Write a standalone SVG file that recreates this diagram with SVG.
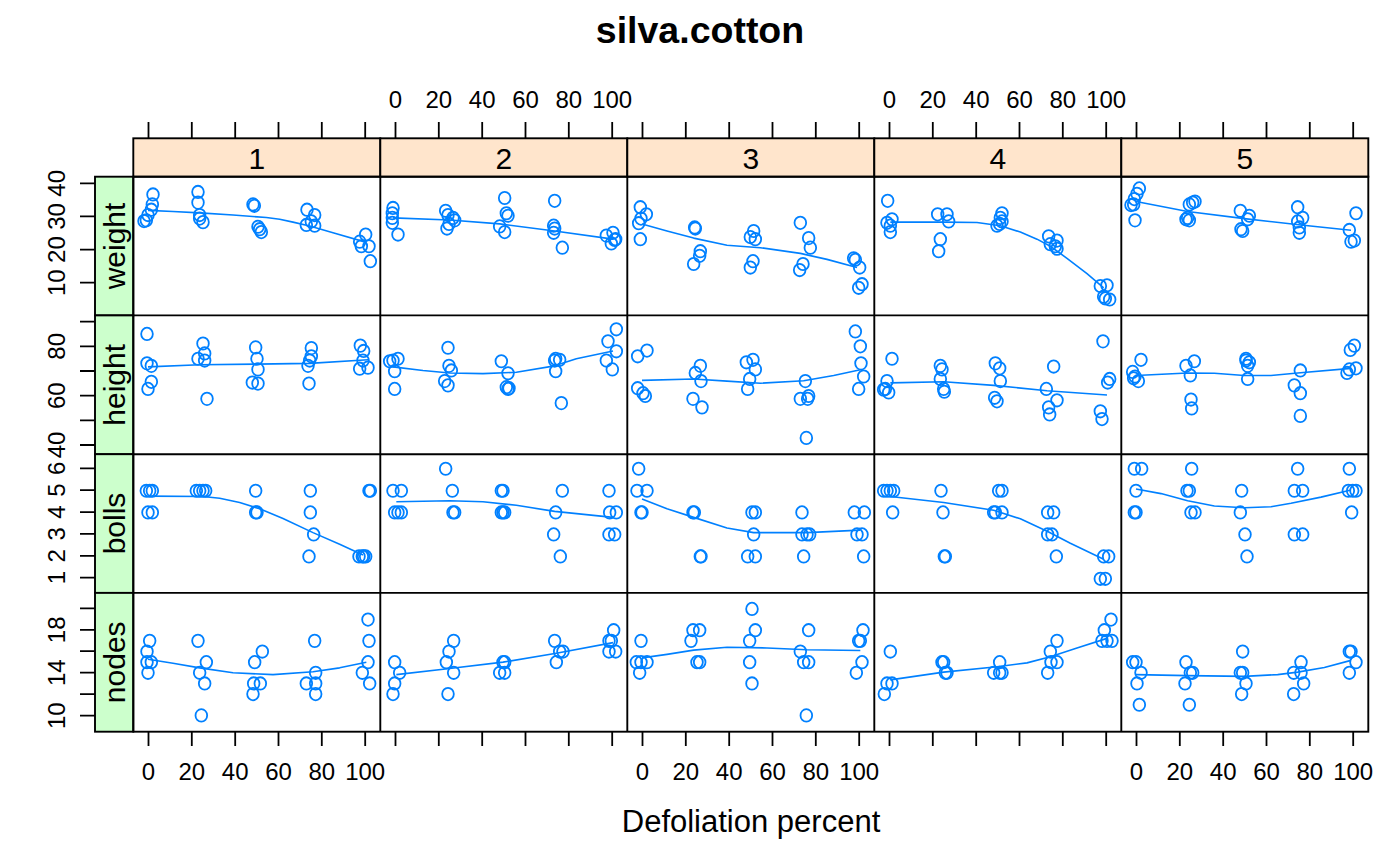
<svg xmlns="http://www.w3.org/2000/svg" width="1400" height="866" viewBox="0 0 1400 866">
<style>
text{font-family:"Liberation Sans",Arial,sans-serif;fill:#000}
.title{font-size:37.5px;font-weight:bold;text-anchor:middle}
.xlab{font-size:31px;text-anchor:middle}
.strip{font-size:30px;text-anchor:middle}
.ax{font-size:24px;text-anchor:middle}
.tick{stroke:#000;stroke-width:1.8;fill:none}
.frame{fill:none;stroke:#000;stroke-width:1.9}
.stripT{fill:#ffe5cc;stroke:#000;stroke-width:1.9}
.stripL{fill:#ccffcc;stroke:#000;stroke-width:1.9}
.pt{fill:none;stroke:#0080ff;stroke-width:1.8;vector-effect:non-scaling-stroke}
.fit{fill:none;stroke:#0080ff;stroke-width:1.6;stroke-linejoin:round;vector-effect:non-scaling-stroke}
</style>
<rect width="1400" height="866" fill="#fff"/>
<text class="title" x="700" y="43">silva.cotton</text>
<text class="xlab" x="751" y="832">Defoliation percent</text>

<g id="top-strips">
<rect class="stripT" x="133.3" y="138.3" width="247" height="38.4"/>
<rect class="stripT" x="380.3" y="138.3" width="247" height="38.4"/>
<rect class="stripT" x="627.3" y="138.3" width="247" height="38.4"/>
<rect class="stripT" x="874.3" y="138.3" width="247" height="38.4"/>
<rect class="stripT" x="1121.3" y="138.3" width="247" height="38.4"/>
<text class="strip" x="256.8" y="168.5">1</text>
<text class="strip" x="503.8" y="168.5">2</text>
<text class="strip" x="750.8" y="168.5">3</text>
<text class="strip" x="997.8" y="168.5">4</text>
<text class="strip" x="1244.8" y="168.5">5</text>
</g>

<g id="left-strips">
<rect class="stripL" x="95" y="176.7" width="38.3" height="138.7"/>
<rect class="stripL" x="95" y="315.4" width="38.3" height="138.8"/>
<rect class="stripL" x="95" y="454.2" width="38.3" height="138.7"/>
<rect class="stripL" x="95" y="592.9" width="38.3" height="138.8"/>
<text class="strip" transform="translate(125 246) rotate(-90)">weight</text>
<text class="strip" transform="translate(125 384.8) rotate(-90)">height</text>
<text class="strip" transform="translate(125 523.5) rotate(-90)">bolls</text>
<text class="strip" transform="translate(125 662.3) rotate(-90)">nodes</text>
</g>

<g id="y-axis">
<path class="tick" d="M80,282.7H95M80,249.6H95M80,216.4H95M80,183.3H95
M80,445H95M80,420.3H95M80,395.7H95M80,371H95M80,346.3H95M80,321.7H95
M80,577.7H95M80,555.8H95M80,533.9H95M80,512.1H95M80,490.2H95M80,468.3H95
M80,715.7H95M80,694.2H95M80,672.7H95M80,651.2H95M80,629.8H95M80,608.3H95"/>
<text class="ax" transform="translate(65 282.7) rotate(-90)">10</text>
<text class="ax" transform="translate(65 249.6) rotate(-90)">20</text>
<text class="ax" transform="translate(65 216.4) rotate(-90)">30</text>
<text class="ax" transform="translate(65 183.3) rotate(-90)">40</text>
<text class="ax" transform="translate(65 445) rotate(-90)">40</text>
<text class="ax" transform="translate(65 395.7) rotate(-90)">60</text>
<text class="ax" transform="translate(65 346.3) rotate(-90)">80</text>
<text class="ax" transform="translate(65 577.7) rotate(-90)">1</text>
<text class="ax" transform="translate(65 555.8) rotate(-90)">2</text>
<text class="ax" transform="translate(65 533.9) rotate(-90)">3</text>
<text class="ax" transform="translate(65 512.1) rotate(-90)">4</text>
<text class="ax" transform="translate(65 490.2) rotate(-90)">5</text>
<text class="ax" transform="translate(65 468.3) rotate(-90)">6</text>
<text class="ax" transform="translate(65 715.7) rotate(-90)">10</text>
<text class="ax" transform="translate(65 672.7) rotate(-90)">14</text>
<text class="ax" transform="translate(65 629.8) rotate(-90)">18</text>
</g>

<g id="x-axis">
<path class="tick" d="M148.5,122V138.3M191.8,122V138.3M235.2,122V138.3M278.5,122V138.3M321.8,122V138.3M365.2,122V138.3
M395.5,122V138.3M438.8,122V138.3M482.2,122V138.3M525.5,122V138.3M568.8,122V138.3M612.2,122V138.3
M642.5,122V138.3M685.8,122V138.3M729.2,122V138.3M772.5,122V138.3M815.8,122V138.3M859.2,122V138.3
M889.5,122V138.3M932.8,122V138.3M976.2,122V138.3M1019.5,122V138.3M1062.8,122V138.3M1106.2,122V138.3
M1136.5,122V138.3M1179.8,122V138.3M1223.2,122V138.3M1266.5,122V138.3M1309.8,122V138.3M1353.2,122V138.3"/>
<path class="tick" d="M148.5,731.7V746M191.8,731.7V746M235.2,731.7V746M278.5,731.7V746M321.8,731.7V746M365.2,731.7V746
M395.5,731.7V746M438.8,731.7V746M482.2,731.7V746M525.5,731.7V746M568.8,731.7V746M612.2,731.7V746
M642.5,731.7V746M685.8,731.7V746M729.2,731.7V746M772.5,731.7V746M815.8,731.7V746M859.2,731.7V746
M889.5,731.7V746M932.8,731.7V746M976.2,731.7V746M1019.5,731.7V746M1062.8,731.7V746M1106.2,731.7V746
M1136.5,731.7V746M1179.8,731.7V746M1223.2,731.7V746M1266.5,731.7V746M1309.8,731.7V746M1353.2,731.7V746"/>
<text class="ax" x="395.5" y="108">0</text><text class="ax" x="438.8" y="108">20</text><text class="ax" x="482.2" y="108">40</text><text class="ax" x="525.5" y="108">60</text><text class="ax" x="568.8" y="108">80</text><text class="ax" x="612.2" y="108">100</text>
<text class="ax" x="889.5" y="108">0</text><text class="ax" x="932.8" y="108">20</text><text class="ax" x="976.2" y="108">40</text><text class="ax" x="1019.5" y="108">60</text><text class="ax" x="1062.8" y="108">80</text><text class="ax" x="1106.2" y="108">100</text>
<text class="ax" x="148.5" y="780">0</text><text class="ax" x="191.8" y="780">20</text><text class="ax" x="235.2" y="780">40</text><text class="ax" x="278.5" y="780">60</text><text class="ax" x="321.8" y="780">80</text><text class="ax" x="365.2" y="780">100</text>
<text class="ax" x="642.5" y="780">0</text><text class="ax" x="685.8" y="780">20</text><text class="ax" x="729.2" y="780">40</text><text class="ax" x="772.5" y="780">60</text><text class="ax" x="815.8" y="780">80</text><text class="ax" x="859.2" y="780">100</text>
<text class="ax" x="1136.5" y="780">0</text><text class="ax" x="1179.8" y="780">20</text><text class="ax" x="1223.2" y="780">40</text><text class="ax" x="1266.5" y="780">60</text><text class="ax" x="1309.8" y="780">80</text><text class="ax" x="1353.2" y="780">100</text>
</g>

<g id="data-cols12" transform="translate(133 176) scale(0.333333 0.354862)">
<g id="panel-weight-1">
<circle class="pt" cx="60" cy="52" r="17.5"/><circle class="pt" cx="58" cy="80" r="17.5"/><circle class="pt" cx="55" cy="95" r="17.5"/><circle class="pt" cx="45" cy="110" r="17.5"/><circle class="pt" cx="40" cy="125" r="17.5"/><circle class="pt" cx="33" cy="127" r="17.5"/>
<circle class="pt" cx="195" cy="45" r="17.5"/><circle class="pt" cx="195" cy="75" r="17.5"/><circle class="pt" cx="200" cy="110" r="17.5"/><circle class="pt" cx="200" cy="120" r="17.5"/><circle class="pt" cx="210" cy="130" r="17.5"/>
<circle class="pt" cx="360" cy="80" r="17.5"/><circle class="pt" cx="364" cy="84" r="17.5"/><circle class="pt" cx="375" cy="143" r="17.5"/><circle class="pt" cx="380" cy="150" r="17.5"/><circle class="pt" cx="385" cy="158" r="17.5"/>
<circle class="pt" cx="522" cy="95" r="17.5"/><circle class="pt" cx="545" cy="110" r="17.5"/><circle class="pt" cx="535" cy="128" r="17.5"/><circle class="pt" cx="520" cy="138" r="17.5"/><circle class="pt" cx="545" cy="140" r="17.5"/>
<circle class="pt" cx="698" cy="165" r="17.5"/><circle class="pt" cx="680" cy="185" r="17.5"/><circle class="pt" cx="685" cy="198" r="17.5"/><circle class="pt" cx="708" cy="198" r="17.5"/><circle class="pt" cx="712" cy="240" r="17.5"/>
<path class="fit" d="M45,97 L120,100 L200,104 L300,110 L400,117 L440,122 L480,130 L530,141 L600,160 L700,187"/>
</g>
<g id="panel-weight-2">
<circle class="pt" cx="780" cy="90" r="17.5"/><circle class="pt" cx="778" cy="105" r="17.5"/><circle class="pt" cx="778" cy="118" r="17.5"/><circle class="pt" cx="778" cy="132" r="17.5"/><circle class="pt" cx="795" cy="165" r="17.5"/>
<circle class="pt" cx="938" cy="98" r="17.5"/><circle class="pt" cx="945" cy="110" r="17.5"/><circle class="pt" cx="960" cy="118" r="17.5"/><circle class="pt" cx="965" cy="125" r="17.5"/><circle class="pt" cx="948" cy="135" r="17.5"/><circle class="pt" cx="942" cy="148" r="17.5"/>
<circle class="pt" cx="1115" cy="62" r="17.5"/><circle class="pt" cx="1120" cy="105" r="17.5"/><circle class="pt" cx="1125" cy="112" r="17.5"/><circle class="pt" cx="1100" cy="142" r="17.5"/><circle class="pt" cx="1115" cy="158" r="17.5"/>
<circle class="pt" cx="1265" cy="70" r="17.5"/><circle class="pt" cx="1262" cy="140" r="17.5"/><circle class="pt" cx="1265" cy="148" r="17.5"/><circle class="pt" cx="1262" cy="160" r="17.5"/><circle class="pt" cx="1288" cy="202" r="17.5"/>
<circle class="pt" cx="1420" cy="168" r="17.5"/><circle class="pt" cx="1440" cy="160" r="17.5"/><circle class="pt" cx="1445" cy="180" r="17.5"/><circle class="pt" cx="1435" cy="190" r="17.5"/><circle class="pt" cx="1448" cy="178" r="17.5"/>
<path class="fit" d="M780,118 L950,124 L1100,135 L1265,155 L1440,178"/>
</g>
<g id="panel-height-1">
<circle class="pt" cx="42" cy="445" r="17.5"/><circle class="pt" cx="42" cy="528" r="17.5"/><circle class="pt" cx="55" cy="535" r="17.5"/><circle class="pt" cx="55" cy="580" r="17.5"/><circle class="pt" cx="45" cy="600" r="17.5"/>
<circle class="pt" cx="210" cy="472" r="17.5"/><circle class="pt" cx="215" cy="500" r="17.5"/><circle class="pt" cx="195" cy="515" r="17.5"/><circle class="pt" cx="215" cy="520" r="17.5"/><circle class="pt" cx="222" cy="628" r="17.5"/>
<circle class="pt" cx="368" cy="483" r="17.5"/><circle class="pt" cx="372" cy="515" r="17.5"/><circle class="pt" cx="375" cy="545" r="17.5"/><circle class="pt" cx="358" cy="582" r="17.5"/><circle class="pt" cx="375" cy="585" r="17.5"/>
<circle class="pt" cx="535" cy="485" r="17.5"/><circle class="pt" cx="535" cy="508" r="17.5"/><circle class="pt" cx="530" cy="520" r="17.5"/><circle class="pt" cx="525" cy="535" r="17.5"/><circle class="pt" cx="528" cy="585" r="17.5"/>
<circle class="pt" cx="682" cy="478" r="17.5"/><circle class="pt" cx="692" cy="493" r="17.5"/><circle class="pt" cx="690" cy="520" r="17.5"/><circle class="pt" cx="680" cy="543" r="17.5"/><circle class="pt" cx="705" cy="540" r="17.5"/>
<path class="fit" d="M45,538 L200,532 L370,530 L530,528 L705,518"/>
</g>
<g id="panel-height-2">
<circle class="pt" cx="780" cy="520" r="17.5"/><circle class="pt" cx="795" cy="515" r="17.5"/><circle class="pt" cx="770" cy="522" r="17.5"/><circle class="pt" cx="785" cy="550" r="17.5"/><circle class="pt" cx="785" cy="600" r="17.5"/>
<circle class="pt" cx="945" cy="484" r="17.5"/><circle class="pt" cx="948" cy="535" r="17.5"/><circle class="pt" cx="955" cy="548" r="17.5"/><circle class="pt" cx="935" cy="578" r="17.5"/><circle class="pt" cx="945" cy="590" r="17.5"/>
<circle class="pt" cx="1105" cy="522" r="17.5"/><circle class="pt" cx="1125" cy="556" r="17.5"/><circle class="pt" cx="1120" cy="595" r="17.5"/><circle class="pt" cx="1125" cy="600" r="17.5"/><circle class="pt" cx="1128" cy="598" r="17.5"/>
<circle class="pt" cx="1268" cy="515" r="17.5"/><circle class="pt" cx="1280" cy="518" r="17.5"/><circle class="pt" cx="1265" cy="520" r="17.5"/><circle class="pt" cx="1268" cy="550" r="17.5"/><circle class="pt" cx="1285" cy="640" r="17.5"/>
<circle class="pt" cx="1450" cy="432" r="17.5"/><circle class="pt" cx="1425" cy="466" r="17.5"/><circle class="pt" cx="1450" cy="494" r="17.5"/><circle class="pt" cx="1420" cy="520" r="17.5"/><circle class="pt" cx="1438" cy="545" r="17.5"/>
<path class="fit" d="M780,538 L870,548 L950,555 L1050,557 L1150,553 L1265,535 L1330,515 L1440,493"/>
</g>
<g id="panel-bolls-1">
<circle class="pt" cx="40" cy="887" r="17.5"/><circle class="pt" cx="50" cy="887" r="17.5"/><circle class="pt" cx="58" cy="887" r="17.5"/><circle class="pt" cx="45" cy="948" r="17.5"/><circle class="pt" cx="58" cy="948" r="17.5"/>
<circle class="pt" cx="190" cy="887" r="17.5"/><circle class="pt" cx="200" cy="887" r="17.5"/><circle class="pt" cx="210" cy="887" r="17.5"/><circle class="pt" cx="218" cy="887" r="17.5"/>
<circle class="pt" cx="368" cy="887" r="17.5"/><circle class="pt" cx="368" cy="948" r="17.5"/><circle class="pt" cx="372" cy="948" r="17.5"/>
<circle class="pt" cx="532" cy="887" r="17.5"/><circle class="pt" cx="532" cy="948" r="17.5"/><circle class="pt" cx="542" cy="1010" r="17.5"/><circle class="pt" cx="528" cy="1072" r="17.5"/>
<circle class="pt" cx="708" cy="887" r="17.5"/><circle class="pt" cx="712" cy="887" r="17.5"/><circle class="pt" cx="678" cy="1072" r="17.5"/><circle class="pt" cx="688" cy="1072" r="17.5"/><circle class="pt" cx="698" cy="1072" r="17.5"/><circle class="pt" cx="692" cy="1072" r="17.5"/>
<path class="fit" d="M45,902 L210,903 L260,908 L320,920 L380,938 L450,965 L540,1005 L620,1038 L690,1068"/>
</g>
<g id="panel-bolls-2">
<circle class="pt" cx="780" cy="887" r="17.5"/><circle class="pt" cx="805" cy="887" r="17.5"/><circle class="pt" cx="785" cy="948" r="17.5"/><circle class="pt" cx="795" cy="948" r="17.5"/><circle class="pt" cx="805" cy="948" r="17.5"/>
<circle class="pt" cx="938" cy="825" r="17.5"/><circle class="pt" cx="958" cy="887" r="17.5"/><circle class="pt" cx="960" cy="948" r="17.5"/><circle class="pt" cx="965" cy="948" r="17.5"/>
<circle class="pt" cx="1105" cy="887" r="17.5"/><circle class="pt" cx="1110" cy="887" r="17.5"/><circle class="pt" cx="1105" cy="948" r="17.5"/><circle class="pt" cx="1110" cy="948" r="17.5"/><circle class="pt" cx="1115" cy="948" r="17.5"/>
<circle class="pt" cx="1288" cy="887" r="17.5"/><circle class="pt" cx="1268" cy="948" r="17.5"/><circle class="pt" cx="1262" cy="1010" r="17.5"/><circle class="pt" cx="1282" cy="1072" r="17.5"/>
<circle class="pt" cx="1428" cy="887" r="17.5"/><circle class="pt" cx="1430" cy="948" r="17.5"/><circle class="pt" cx="1450" cy="948" r="17.5"/><circle class="pt" cx="1428" cy="1010" r="17.5"/><circle class="pt" cx="1445" cy="1010" r="17.5"/>
<path class="fit" d="M790,918 L950,915 L1050,918 L1150,928 L1265,945 L1440,962"/>
</g>
<g id="panel-nodes-1">
<circle class="pt" cx="50" cy="1310" r="17.5"/><circle class="pt" cx="42" cy="1340" r="17.5"/><circle class="pt" cx="42" cy="1370" r="17.5"/><circle class="pt" cx="55" cy="1370" r="17.5"/><circle class="pt" cx="45" cy="1400" r="17.5"/>
<circle class="pt" cx="195" cy="1310" r="17.5"/><circle class="pt" cx="220" cy="1370" r="17.5"/><circle class="pt" cx="200" cy="1400" r="17.5"/><circle class="pt" cx="215" cy="1430" r="17.5"/><circle class="pt" cx="205" cy="1520" r="17.5"/>
<circle class="pt" cx="388" cy="1340" r="17.5"/><circle class="pt" cx="365" cy="1370" r="17.5"/><circle class="pt" cx="362" cy="1430" r="17.5"/><circle class="pt" cx="382" cy="1430" r="17.5"/><circle class="pt" cx="360" cy="1460" r="17.5"/>
<circle class="pt" cx="545" cy="1310" r="17.5"/><circle class="pt" cx="548" cy="1400" r="17.5"/><circle class="pt" cx="520" cy="1430" r="17.5"/><circle class="pt" cx="548" cy="1430" r="17.5"/><circle class="pt" cx="548" cy="1460" r="17.5"/>
<circle class="pt" cx="705" cy="1250" r="17.5"/><circle class="pt" cx="708" cy="1310" r="17.5"/><circle class="pt" cx="705" cy="1370" r="17.5"/><circle class="pt" cx="688" cy="1400" r="17.5"/><circle class="pt" cx="710" cy="1430" r="17.5"/>
<path class="fit" d="M45,1362 L120,1373 L200,1386 L300,1400 L420,1405 L540,1397 L620,1386 L700,1370"/>
</g>
<g id="panel-nodes-2">
<circle class="pt" cx="785" cy="1370" r="17.5"/><circle class="pt" cx="800" cy="1400" r="17.5"/><circle class="pt" cx="785" cy="1430" r="17.5"/><circle class="pt" cx="780" cy="1460" r="17.5"/>
<circle class="pt" cx="962" cy="1310" r="17.5"/><circle class="pt" cx="948" cy="1340" r="17.5"/><circle class="pt" cx="940" cy="1370" r="17.5"/><circle class="pt" cx="962" cy="1400" r="17.5"/><circle class="pt" cx="945" cy="1460" r="17.5"/>
<circle class="pt" cx="1110" cy="1370" r="17.5"/><circle class="pt" cx="1115" cy="1370" r="17.5"/><circle class="pt" cx="1100" cy="1400" r="17.5"/><circle class="pt" cx="1115" cy="1400" r="17.5"/>
<circle class="pt" cx="1265" cy="1310" r="17.5"/><circle class="pt" cx="1290" cy="1340" r="17.5"/><circle class="pt" cx="1280" cy="1340" r="17.5"/><circle class="pt" cx="1270" cy="1370" r="17.5"/>
<circle class="pt" cx="1442" cy="1280" r="17.5"/><circle class="pt" cx="1428" cy="1310" r="17.5"/><circle class="pt" cx="1435" cy="1310" r="17.5"/><circle class="pt" cx="1428" cy="1340" r="17.5"/><circle class="pt" cx="1448" cy="1340" r="17.5"/>
<path class="fit" d="M790,1405 L950,1388 L1110,1370 L1270,1345 L1440,1315"/>
</g>
</g>

<g id="data-cols34" transform="translate(627 176) scale(0.333333 0.354862)">
<g id="panel-weight-3">
<circle class="pt" cx="40" cy="88" r="17.5"/><circle class="pt" cx="58" cy="108" r="17.5"/><circle class="pt" cx="42" cy="120" r="17.5"/><circle class="pt" cx="35" cy="133" r="17.5"/><circle class="pt" cx="40" cy="178" r="17.5"/>
<circle class="pt" cx="203" cy="145" r="17.5"/><circle class="pt" cx="205" cy="148" r="17.5"/><circle class="pt" cx="220" cy="212" r="17.5"/><circle class="pt" cx="218" cy="225" r="17.5"/><circle class="pt" cx="200" cy="248" r="17.5"/>
<circle class="pt" cx="380" cy="155" r="17.5"/><circle class="pt" cx="370" cy="172" r="17.5"/><circle class="pt" cx="385" cy="178" r="17.5"/><circle class="pt" cx="378" cy="240" r="17.5"/><circle class="pt" cx="370" cy="258" r="17.5"/>
<circle class="pt" cx="520" cy="132" r="17.5"/><circle class="pt" cx="545" cy="175" r="17.5"/><circle class="pt" cx="550" cy="202" r="17.5"/><circle class="pt" cx="528" cy="248" r="17.5"/><circle class="pt" cx="518" cy="265" r="17.5"/>
<circle class="pt" cx="680" cy="232" r="17.5"/><circle class="pt" cx="685" cy="236" r="17.5"/><circle class="pt" cx="698" cy="258" r="17.5"/><circle class="pt" cx="705" cy="305" r="17.5"/><circle class="pt" cx="695" cy="315" r="17.5"/>
<path class="fit" d="M45,135 L120,155 L200,175 L300,195 L400,202 L520,218 L600,235 L690,258"/>
</g>
<g id="panel-weight-4">
<circle class="pt" cx="782" cy="70" r="17.5"/><circle class="pt" cx="795" cy="122" r="17.5"/><circle class="pt" cx="780" cy="132" r="17.5"/><circle class="pt" cx="790" cy="140" r="17.5"/><circle class="pt" cx="790" cy="158" r="17.5"/>
<circle class="pt" cx="932" cy="108" r="17.5"/><circle class="pt" cx="960" cy="108" r="17.5"/><circle class="pt" cx="965" cy="128" r="17.5"/><circle class="pt" cx="940" cy="178" r="17.5"/><circle class="pt" cx="935" cy="212" r="17.5"/>
<circle class="pt" cx="1125" cy="105" r="17.5"/><circle class="pt" cx="1120" cy="118" r="17.5"/><circle class="pt" cx="1125" cy="128" r="17.5"/><circle class="pt" cx="1110" cy="140" r="17.5"/><circle class="pt" cx="1118" cy="135" r="17.5"/>
<circle class="pt" cx="1265" cy="170" r="17.5"/><circle class="pt" cx="1290" cy="182" r="17.5"/><circle class="pt" cx="1270" cy="192" r="17.5"/><circle class="pt" cx="1290" cy="205" r="17.5"/><circle class="pt" cx="1285" cy="198" r="17.5"/>
<circle class="pt" cx="1420" cy="310" r="17.5"/><circle class="pt" cx="1440" cy="308" r="17.5"/><circle class="pt" cx="1430" cy="340" r="17.5"/><circle class="pt" cx="1448" cy="348" r="17.5"/><circle class="pt" cx="1435" cy="345" r="17.5"/>
<path class="fit" d="M790,130 L950,130 L1050,131 L1120,140 L1180,158 L1230,178 L1270,198 L1320,232 L1380,275 L1430,315"/>
</g>
<g id="panel-height-3">
<circle class="pt" cx="32" cy="508" r="17.5"/><circle class="pt" cx="60" cy="492" r="17.5"/><circle class="pt" cx="32" cy="598" r="17.5"/><circle class="pt" cx="48" cy="612" r="17.5"/><circle class="pt" cx="55" cy="620" r="17.5"/>
<circle class="pt" cx="220" cy="535" r="17.5"/><circle class="pt" cx="205" cy="555" r="17.5"/><circle class="pt" cx="222" cy="578" r="17.5"/><circle class="pt" cx="198" cy="628" r="17.5"/><circle class="pt" cx="225" cy="652" r="17.5"/>
<circle class="pt" cx="358" cy="525" r="17.5"/><circle class="pt" cx="378" cy="518" r="17.5"/><circle class="pt" cx="385" cy="545" r="17.5"/><circle class="pt" cx="368" cy="572" r="17.5"/><circle class="pt" cx="362" cy="600" r="17.5"/>
<circle class="pt" cx="535" cy="578" r="17.5"/><circle class="pt" cx="520" cy="628" r="17.5"/><circle class="pt" cx="545" cy="620" r="17.5"/><circle class="pt" cx="542" cy="628" r="17.5"/><circle class="pt" cx="538" cy="738" r="17.5"/>
<circle class="pt" cx="685" cy="438" r="17.5"/><circle class="pt" cx="700" cy="480" r="17.5"/><circle class="pt" cx="702" cy="528" r="17.5"/><circle class="pt" cx="710" cy="565" r="17.5"/><circle class="pt" cx="695" cy="600" r="17.5"/>
<path class="fit" d="M45,576 L200,572 L300,578 L400,584 L530,577 L620,562 L700,546"/>
</g>
<g id="panel-height-4">
<circle class="pt" cx="795" cy="515" r="17.5"/><circle class="pt" cx="780" cy="578" r="17.5"/><circle class="pt" cx="770" cy="602" r="17.5"/><circle class="pt" cx="785" cy="610" r="17.5"/><circle class="pt" cx="775" cy="600" r="17.5"/>
<circle class="pt" cx="940" cy="535" r="17.5"/><circle class="pt" cx="945" cy="545" r="17.5"/><circle class="pt" cx="940" cy="572" r="17.5"/><circle class="pt" cx="950" cy="600" r="17.5"/><circle class="pt" cx="952" cy="608" r="17.5"/>
<circle class="pt" cx="1105" cy="528" r="17.5"/><circle class="pt" cx="1118" cy="542" r="17.5"/><circle class="pt" cx="1120" cy="578" r="17.5"/><circle class="pt" cx="1103" cy="625" r="17.5"/><circle class="pt" cx="1110" cy="635" r="17.5"/>
<circle class="pt" cx="1280" cy="537" r="17.5"/><circle class="pt" cx="1258" cy="600" r="17.5"/><circle class="pt" cx="1290" cy="632" r="17.5"/><circle class="pt" cx="1265" cy="652" r="17.5"/><circle class="pt" cx="1268" cy="672" r="17.5"/>
<circle class="pt" cx="1428" cy="466" r="17.5"/><circle class="pt" cx="1448" cy="572" r="17.5"/><circle class="pt" cx="1442" cy="582" r="17.5"/><circle class="pt" cx="1420" cy="663" r="17.5"/><circle class="pt" cx="1425" cy="685" r="17.5"/>
<path class="fit" d="M790,583 L950,580 L1100,590 L1260,605 L1440,617"/>
</g>
<g id="panel-bolls-3">
<circle class="pt" cx="35" cy="825" r="17.5"/><circle class="pt" cx="30" cy="887" r="17.5"/><circle class="pt" cx="60" cy="887" r="17.5"/><circle class="pt" cx="42" cy="948" r="17.5"/><circle class="pt" cx="45" cy="948" r="17.5"/>
<circle class="pt" cx="198" cy="948" r="17.5"/><circle class="pt" cx="202" cy="948" r="17.5"/><circle class="pt" cx="220" cy="1072" r="17.5"/><circle class="pt" cx="222" cy="1072" r="17.5"/>
<circle class="pt" cx="375" cy="948" r="17.5"/><circle class="pt" cx="385" cy="948" r="17.5"/><circle class="pt" cx="380" cy="1010" r="17.5"/><circle class="pt" cx="362" cy="1072" r="17.5"/><circle class="pt" cx="385" cy="1072" r="17.5"/>
<circle class="pt" cx="525" cy="948" r="17.5"/><circle class="pt" cx="525" cy="1010" r="17.5"/><circle class="pt" cx="540" cy="1010" r="17.5"/><circle class="pt" cx="548" cy="1010" r="17.5"/><circle class="pt" cx="530" cy="1072" r="17.5"/>
<circle class="pt" cx="682" cy="948" r="17.5"/><circle class="pt" cx="712" cy="948" r="17.5"/><circle class="pt" cx="690" cy="1010" r="17.5"/><circle class="pt" cx="705" cy="1010" r="17.5"/><circle class="pt" cx="710" cy="1072" r="17.5"/>
<path class="fit" d="M45,910 L120,938 L200,962 L300,992 L380,1005 L540,1005 L700,998"/>
</g>
<g id="panel-bolls-4">
<circle class="pt" cx="770" cy="887" r="17.5"/><circle class="pt" cx="780" cy="887" r="17.5"/><circle class="pt" cx="790" cy="887" r="17.5"/><circle class="pt" cx="800" cy="887" r="17.5"/><circle class="pt" cx="797" cy="948" r="17.5"/>
<circle class="pt" cx="942" cy="887" r="17.5"/><circle class="pt" cx="948" cy="948" r="17.5"/><circle class="pt" cx="955" cy="1072" r="17.5"/><circle class="pt" cx="952" cy="1072" r="17.5"/>
<circle class="pt" cx="1115" cy="887" r="17.5"/><circle class="pt" cx="1125" cy="887" r="17.5"/><circle class="pt" cx="1100" cy="948" r="17.5"/><circle class="pt" cx="1125" cy="948" r="17.5"/><circle class="pt" cx="1105" cy="948" r="17.5"/>
<circle class="pt" cx="1262" cy="948" r="17.5"/><circle class="pt" cx="1280" cy="948" r="17.5"/><circle class="pt" cx="1262" cy="1010" r="17.5"/><circle class="pt" cx="1275" cy="1010" r="17.5"/><circle class="pt" cx="1288" cy="1072" r="17.5"/>
<circle class="pt" cx="1430" cy="1072" r="17.5"/><circle class="pt" cx="1445" cy="1072" r="17.5"/><circle class="pt" cx="1420" cy="1135" r="17.5"/><circle class="pt" cx="1435" cy="1135" r="17.5"/>
<path class="fit" d="M790,903 L950,920 L1100,942 L1180,966 L1265,1003 L1330,1035 L1430,1080"/>
</g>
<g id="panel-nodes-3">
<circle class="pt" cx="42" cy="1310" r="17.5"/><circle class="pt" cx="28" cy="1370" r="17.5"/><circle class="pt" cx="42" cy="1370" r="17.5"/><circle class="pt" cx="60" cy="1370" r="17.5"/><circle class="pt" cx="38" cy="1400" r="17.5"/>
<circle class="pt" cx="198" cy="1280" r="17.5"/><circle class="pt" cx="218" cy="1280" r="17.5"/><circle class="pt" cx="192" cy="1310" r="17.5"/><circle class="pt" cx="210" cy="1370" r="17.5"/><circle class="pt" cx="218" cy="1370" r="17.5"/>
<circle class="pt" cx="375" cy="1220" r="17.5"/><circle class="pt" cx="385" cy="1280" r="17.5"/><circle class="pt" cx="368" cy="1310" r="17.5"/><circle class="pt" cx="368" cy="1370" r="17.5"/><circle class="pt" cx="375" cy="1430" r="17.5"/>
<circle class="pt" cx="545" cy="1280" r="17.5"/><circle class="pt" cx="520" cy="1340" r="17.5"/><circle class="pt" cx="530" cy="1370" r="17.5"/><circle class="pt" cx="545" cy="1370" r="17.5"/><circle class="pt" cx="538" cy="1520" r="17.5"/>
<circle class="pt" cx="708" cy="1280" r="17.5"/><circle class="pt" cx="700" cy="1310" r="17.5"/><circle class="pt" cx="695" cy="1310" r="17.5"/><circle class="pt" cx="705" cy="1370" r="17.5"/><circle class="pt" cx="688" cy="1400" r="17.5"/>
<path class="fit" d="M45,1358 L120,1348 L200,1336 L300,1328 L420,1330 L540,1335 L700,1337"/>
</g>
<g id="panel-nodes-4">
<circle class="pt" cx="790" cy="1340" r="17.5"/><circle class="pt" cx="780" cy="1430" r="17.5"/><circle class="pt" cx="795" cy="1430" r="17.5"/><circle class="pt" cx="772" cy="1460" r="17.5"/>
<circle class="pt" cx="945" cy="1370" r="17.5"/><circle class="pt" cx="950" cy="1370" r="17.5"/><circle class="pt" cx="960" cy="1400" r="17.5"/><circle class="pt" cx="955" cy="1400" r="17.5"/>
<circle class="pt" cx="1118" cy="1370" r="17.5"/><circle class="pt" cx="1100" cy="1400" r="17.5"/><circle class="pt" cx="1118" cy="1400" r="17.5"/><circle class="pt" cx="1125" cy="1400" r="17.5"/>
<circle class="pt" cx="1290" cy="1310" r="17.5"/><circle class="pt" cx="1270" cy="1340" r="17.5"/><circle class="pt" cx="1272" cy="1370" r="17.5"/><circle class="pt" cx="1290" cy="1370" r="17.5"/><circle class="pt" cx="1262" cy="1400" r="17.5"/>
<circle class="pt" cx="1452" cy="1250" r="17.5"/><circle class="pt" cx="1432" cy="1280" r="17.5"/><circle class="pt" cx="1425" cy="1310" r="17.5"/><circle class="pt" cx="1440" cy="1310" r="17.5"/><circle class="pt" cx="1455" cy="1310" r="17.5"/>
<path class="fit" d="M790,1420 L950,1398 L1110,1383 L1200,1372 L1270,1355 L1350,1330 L1440,1303"/>
</g>
</g>

<g id="data-col5" transform="translate(1121 176) scale(0.333333 0.354862)">
<g id="panel-weight-5">
<circle class="pt" cx="55" cy="35" r="17.5"/><circle class="pt" cx="48" cy="50" r="17.5"/><circle class="pt" cx="40" cy="65" r="17.5"/><circle class="pt" cx="30" cy="82" r="17.5"/><circle class="pt" cx="38" cy="80" r="17.5"/><circle class="pt" cx="42" cy="125" r="17.5"/>
<circle class="pt" cx="215" cy="75" r="17.5"/><circle class="pt" cx="222" cy="72" r="17.5"/><circle class="pt" cx="205" cy="80" r="17.5"/><circle class="pt" cx="200" cy="118" r="17.5"/><circle class="pt" cx="205" cy="125" r="17.5"/><circle class="pt" cx="195" cy="122" r="17.5"/>
<circle class="pt" cx="358" cy="98" r="17.5"/><circle class="pt" cx="385" cy="112" r="17.5"/><circle class="pt" cx="380" cy="122" r="17.5"/><circle class="pt" cx="360" cy="150" r="17.5"/><circle class="pt" cx="365" cy="155" r="17.5"/>
<circle class="pt" cx="530" cy="88" r="17.5"/><circle class="pt" cx="545" cy="118" r="17.5"/><circle class="pt" cx="530" cy="128" r="17.5"/><circle class="pt" cx="535" cy="145" r="17.5"/><circle class="pt" cx="535" cy="160" r="17.5"/>
<circle class="pt" cx="705" cy="105" r="17.5"/><circle class="pt" cx="685" cy="152" r="17.5"/><circle class="pt" cx="690" cy="185" r="17.5"/><circle class="pt" cx="700" cy="182" r="17.5"/>
<path class="fit" d="M45,72 L200,100 L370,120 L540,138 L690,153"/>
</g>
<g id="panel-height-5">
<circle class="pt" cx="60" cy="518" r="17.5"/><circle class="pt" cx="35" cy="552" r="17.5"/><circle class="pt" cx="42" cy="565" r="17.5"/><circle class="pt" cx="52" cy="578" r="17.5"/><circle class="pt" cx="38" cy="570" r="17.5"/>
<circle class="pt" cx="220" cy="522" r="17.5"/><circle class="pt" cx="195" cy="535" r="17.5"/><circle class="pt" cx="208" cy="562" r="17.5"/><circle class="pt" cx="210" cy="630" r="17.5"/><circle class="pt" cx="212" cy="655" r="17.5"/>
<circle class="pt" cx="375" cy="515" r="17.5"/><circle class="pt" cx="385" cy="525" r="17.5"/><circle class="pt" cx="380" cy="535" r="17.5"/><circle class="pt" cx="375" cy="520" r="17.5"/><circle class="pt" cx="380" cy="572" r="17.5"/>
<circle class="pt" cx="538" cy="548" r="17.5"/><circle class="pt" cx="520" cy="590" r="17.5"/><circle class="pt" cx="538" cy="612" r="17.5"/><circle class="pt" cx="538" cy="676" r="17.5"/>
<circle class="pt" cx="700" cy="478" r="17.5"/><circle class="pt" cx="688" cy="490" r="17.5"/><circle class="pt" cx="705" cy="542" r="17.5"/><circle class="pt" cx="685" cy="545" r="17.5"/><circle class="pt" cx="678" cy="555" r="17.5"/>
<path class="fit" d="M45,562 L200,555 L280,556 L370,562 L450,562 L530,555 L690,542"/>
</g>
<g id="panel-bolls-5">
<circle class="pt" cx="40" cy="825" r="17.5"/><circle class="pt" cx="62" cy="825" r="17.5"/><circle class="pt" cx="45" cy="887" r="17.5"/><circle class="pt" cx="40" cy="948" r="17.5"/><circle class="pt" cx="45" cy="948" r="17.5"/>
<circle class="pt" cx="212" cy="825" r="17.5"/><circle class="pt" cx="198" cy="887" r="17.5"/><circle class="pt" cx="205" cy="887" r="17.5"/><circle class="pt" cx="210" cy="948" r="17.5"/><circle class="pt" cx="222" cy="948" r="17.5"/>
<circle class="pt" cx="362" cy="887" r="17.5"/><circle class="pt" cx="358" cy="948" r="17.5"/><circle class="pt" cx="372" cy="1010" r="17.5"/><circle class="pt" cx="378" cy="1072" r="17.5"/>
<circle class="pt" cx="530" cy="825" r="17.5"/><circle class="pt" cx="520" cy="887" r="17.5"/><circle class="pt" cx="545" cy="887" r="17.5"/><circle class="pt" cx="520" cy="1010" r="17.5"/><circle class="pt" cx="545" cy="1010" r="17.5"/>
<circle class="pt" cx="685" cy="825" r="17.5"/><circle class="pt" cx="682" cy="887" r="17.5"/><circle class="pt" cx="695" cy="887" r="17.5"/><circle class="pt" cx="705" cy="887" r="17.5"/><circle class="pt" cx="692" cy="948" r="17.5"/>
<path class="fit" d="M45,882 L120,895 L200,915 L280,930 L370,935 L450,932 L510,922 L600,905 L690,885"/>
</g>
<g id="panel-nodes-5">
<circle class="pt" cx="35" cy="1370" r="17.5"/><circle class="pt" cx="45" cy="1370" r="17.5"/><circle class="pt" cx="60" cy="1400" r="17.5"/><circle class="pt" cx="48" cy="1430" r="17.5"/><circle class="pt" cx="55" cy="1490" r="17.5"/>
<circle class="pt" cx="195" cy="1370" r="17.5"/><circle class="pt" cx="215" cy="1400" r="17.5"/><circle class="pt" cx="208" cy="1400" r="17.5"/><circle class="pt" cx="192" cy="1430" r="17.5"/><circle class="pt" cx="205" cy="1490" r="17.5"/>
<circle class="pt" cx="365" cy="1340" r="17.5"/><circle class="pt" cx="358" cy="1400" r="17.5"/><circle class="pt" cx="365" cy="1400" r="17.5"/><circle class="pt" cx="375" cy="1430" r="17.5"/><circle class="pt" cx="362" cy="1460" r="17.5"/>
<circle class="pt" cx="540" cy="1370" r="17.5"/><circle class="pt" cx="518" cy="1400" r="17.5"/><circle class="pt" cx="540" cy="1400" r="17.5"/><circle class="pt" cx="548" cy="1430" r="17.5"/><circle class="pt" cx="518" cy="1460" r="17.5"/>
<circle class="pt" cx="685" cy="1340" r="17.5"/><circle class="pt" cx="690" cy="1340" r="17.5"/><circle class="pt" cx="705" cy="1370" r="17.5"/><circle class="pt" cx="685" cy="1400" r="17.5"/>
<path class="fit" d="M45,1405 L200,1408 L370,1410 L470,1405 L530,1398 L610,1385 L690,1365"/>
</g>
</g>

<g id="panel-frames">
<rect class="frame" x="133.3" y="176.7" width="1235" height="555"/>
<path class="frame" d="M380.3,176.7V731.7M627.3,176.7V731.7M874.3,176.7V731.7M1121.3,176.7V731.7M133.3,315.4H1368.3M133.3,454.2H1368.3M133.3,592.9H1368.3"/>
</g>
</svg>
